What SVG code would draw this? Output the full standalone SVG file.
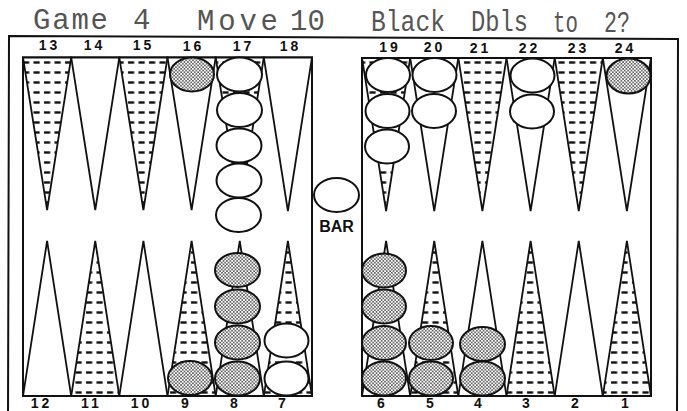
<svg xmlns="http://www.w3.org/2000/svg" width="687" height="411" viewBox="0 0 687 411">
<defs>
<pattern id="hatch" patternUnits="userSpaceOnUse" width="10.5" height="10">
<rect width="10.5" height="10" fill="#fff"/>
<rect x="2" y="1.3" width="6.2" height="2.4" fill="#111"/>
</pattern>
<pattern id="stip" patternUnits="userSpaceOnUse" width="3.4" height="3.4">
<rect width="3.4" height="3.4" fill="#fff"/>
<circle cx="0.85" cy="0.85" r="0.8" fill="#222"/>
<circle cx="2.55" cy="2.55" r="0.8" fill="#222"/>
</pattern>
</defs>
<style>
.frame{fill:none;stroke:#111;stroke-width:2}
.pt{fill:#fff;stroke:#111;stroke-width:1.8;stroke-linejoin:miter}
.pt.h{fill:url(#hatch)}
.w{fill:#fff;stroke:#111;stroke-width:2}
.b{fill:url(#stip);stroke:#111;stroke-width:2}
.title{font-family:"Liberation Mono","Courier New",monospace;font-size:29px;fill:#555}
.num{font-family:"Liberation Sans",Arial,sans-serif;font-weight:bold;font-size:14px;letter-spacing:3px;fill:#111;text-anchor:middle}
.bar{font-family:"Liberation Sans",Arial,sans-serif;font-weight:bold;font-size:16px;fill:#111;text-anchor:middle}
</style>
<rect width="687" height="411" fill="#fff"/>

<g id="title">
<text class="title"><tspan x="33" y="29" textLength="75" lengthAdjust="spacing">Game</tspan><tspan x="133" y="29">4</tspan><tspan x="197" y="30" textLength="81" lengthAdjust="spacing">Move</tspan><tspan x="290" y="30">10</tspan><tspan x="371" y="31" textLength="74" lengthAdjust="spacingAndGlyphs">Black</tspan><tspan x="471" y="31" textLength="57" lengthAdjust="spacingAndGlyphs">Dbls</tspan><tspan x="553" y="32" textLength="25" lengthAdjust="spacingAndGlyphs">to</tspan><tspan x="604" y="32" textLength="26" lengthAdjust="spacingAndGlyphs">2?</tspan></text>
</g>

<g id="board-frame">
<path class="frame" d="M8 420 L9 36 L678 39 L677 420"/>
<rect class="frame" x="23" y="57.5" width="289" height="338.5"/>
<rect class="frame" x="362" y="58" width="289" height="338"/>
</g>

<g id="points-top">
<polygon id="p13" class="pt h" points="23,57.5 71.2,57.5 47.1,210"/>
<polygon id="p14" class="pt" points="71.2,57.5 119.3,57.5 95.25,210"/>
<polygon id="p15" class="pt h" points="119.3,57.5 167.5,57.5 143.4,210"/>
<polygon id="p16" class="pt" points="167.5,57.5 215.7,57.5 191.6,210"/>
<polygon id="p17" class="pt h" points="215.7,57.5 263.8,57.5 239.75,210"/>
<polygon id="p18" class="pt" points="263.8,57.5 312,57.5 287.9,211"/>
<polygon id="p19" class="pt h" points="362,58 410.2,58 386.1,211"/>
<polygon id="p20" class="pt" points="410.2,58 458.3,58 434.25,211"/>
<polygon id="p21" class="pt h" points="458.3,58 506.5,58 482.4,211"/>
<polygon id="p22" class="pt" points="506.5,58 554.7,58 530.6,211"/>
<polygon id="p23" class="pt h" points="554.7,58 602.8,58 578.75,211"/>
<polygon id="p24" class="pt" points="602.8,58 651,58 626.9,211"/>
</g>

<g id="points-bottom">
<polygon id="p12" class="pt" points="23,396 71.2,396 47.1,241"/>
<polygon id="p11" class="pt h" points="71.2,396 119.3,396 95.25,241"/>
<polygon id="p10" class="pt" points="119.3,396 167.5,396 143.4,241"/>
<polygon id="p9" class="pt h" points="167.5,396 215.7,396 191.6,241"/>
<polygon id="p8" class="pt" points="215.7,396 263.8,396 239.75,241"/>
<polygon id="p7" class="pt h" points="263.8,396 312,396 287.9,241"/>
<polygon id="p6" class="pt" points="362,396 410.2,396 386.1,241"/>
<polygon id="p5" class="pt h" points="410.2,396 458.3,396 434.25,241"/>
<polygon id="p4" class="pt" points="458.3,396 506.5,396 482.4,241"/>
<polygon id="p3" class="pt h" points="506.5,396 554.7,396 530.6,241"/>
<polygon id="p2" class="pt" points="554.7,396 602.8,396 578.75,241"/>
<polygon id="p1" class="pt h" points="602.8,396 651,396 626.9,241"/>
</g>

<g id="checkers-top">
<ellipse class="b" cx="192" cy="74.5" rx="22" ry="17"/>
<ellipse class="w" cx="239.5" cy="74.5" rx="22.5" ry="17"/>
<ellipse class="w" cx="239.5" cy="110" rx="22.5" ry="17"/>
<ellipse class="w" cx="239" cy="145.5" rx="22.5" ry="17"/>
<ellipse class="w" cx="239" cy="180.5" rx="22.5" ry="17"/>
<ellipse class="w" cx="238.5" cy="215" rx="22.5" ry="17"/>
<ellipse class="w" cx="388" cy="75" rx="22" ry="17"/>
<ellipse class="w" cx="387.5" cy="111" rx="22" ry="17"/>
<ellipse class="w" cx="387" cy="146.5" rx="22" ry="17"/>
<ellipse class="w" cx="434.5" cy="75" rx="22" ry="17"/>
<ellipse class="w" cx="434" cy="111" rx="22" ry="17"/>
<ellipse class="w" cx="532.5" cy="75.5" rx="22" ry="17"/>
<ellipse class="w" cx="532" cy="111.5" rx="22" ry="17"/>
<ellipse class="b" cx="628.5" cy="76" rx="22" ry="17.5"/>
</g>

<g id="bar">
<ellipse class="w" cx="336.5" cy="195" rx="22.5" ry="17"/>
<text class="bar" x="336.5" y="232">BAR</text>
</g>

<g id="checkers-bottom">
<ellipse class="b" cx="190" cy="378" rx="22" ry="17"/>
<ellipse class="b" cx="237.5" cy="378.5" rx="22.5" ry="17"/>
<ellipse class="b" cx="237.5" cy="342.5" rx="22.5" ry="17"/>
<ellipse class="b" cx="237.5" cy="306.5" rx="22.5" ry="17"/>
<ellipse class="b" cx="237.5" cy="270" rx="22.5" ry="17"/>
<ellipse class="w" cx="286.5" cy="378.5" rx="22" ry="17"/>
<ellipse class="w" cx="286.5" cy="340.5" rx="22" ry="17"/>
<ellipse class="b" cx="384" cy="378.5" rx="22" ry="17"/>
<ellipse class="b" cx="384" cy="343" rx="22" ry="17"/>
<ellipse class="b" cx="384" cy="306.5" rx="22" ry="17"/>
<ellipse class="b" cx="384" cy="270.5" rx="22" ry="17"/>
<ellipse class="b" cx="431" cy="378.5" rx="22" ry="17"/>
<ellipse class="b" cx="431" cy="343" rx="22" ry="17"/>
<ellipse class="b" cx="482.5" cy="378.5" rx="22.5" ry="17"/>
<ellipse class="b" cx="482.5" cy="344" rx="22.5" ry="17"/>
</g>

<g id="labels-top">
<text class="num" x="49.5" y="50">13</text>
<text class="num" x="94.5" y="50">14</text>
<text class="num" x="143.5" y="50">15</text>
<text class="num" x="193.5" y="51">16</text>
<text class="num" x="243.5" y="51">17</text>
<text class="num" x="290.5" y="51">18</text>
<text class="num" x="390" y="52">19</text>
<text class="num" x="434.5" y="52">20</text>
<text class="num" x="480.5" y="53">21</text>
<text class="num" x="529.5" y="53">22</text>
<text class="num" x="578.5" y="53">23</text>
<text class="num" x="625.5" y="53">24</text>
</g>

<g id="labels-bottom">
<text class="num" x="41.5" y="408">12</text>
<text class="num" x="91.5" y="408">11</text>
<text class="num" x="141.5" y="408">10</text>
<text class="num" x="186.5" y="408">9</text>
<text class="num" x="235.5" y="408">8</text>
<text class="num" x="283.5" y="408">7</text>
<text class="num" x="382.5" y="408">6</text>
<text class="num" x="431.5" y="408">5</text>
<text class="num" x="479.5" y="408">4</text>
<text class="num" x="527.5" y="408">3</text>
<text class="num" x="576.5" y="408">2</text>
<text class="num" x="626.5" y="408">1</text>
</g>
</svg>
